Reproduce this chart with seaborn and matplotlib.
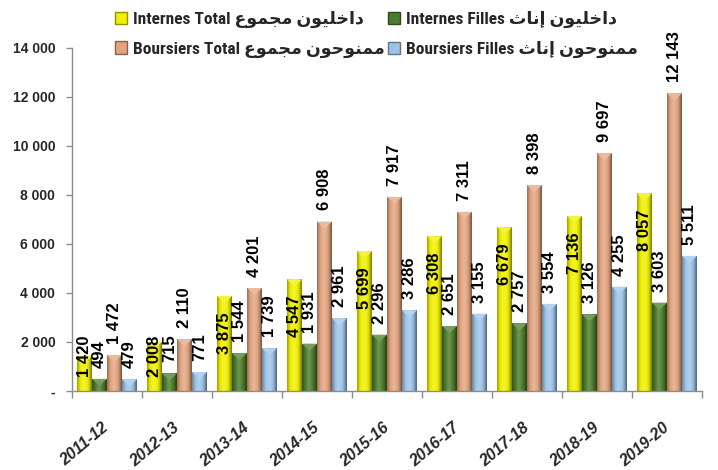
import numpy as np
import pandas as pd
import matplotlib
matplotlib.use("Agg")
import matplotlib.pyplot as plt
import matplotlib.colors as mcolors
from matplotlib import font_manager
from matplotlib.patches import Rectangle, Polygon
from matplotlib.transforms import ScaledTranslation
import seaborn as sns

# ---- data -------------------------------------------------------------
years = ["2011-12", "2012-13", "2013-14", "2014-15", "2015-16",
         "2016-17", "2017-18", "2018-19", "2019-20"]
internes_total = [1420, 2008, 3875, 4547, 5699, 6308, 6679, 7136, 8057]
internes_filles = [494, 715, 1544, 1931, 2296, 2651, 2757, 3126, 3603]
boursiers_total = [1472, 2110, 4201, 6908, 7917, 7311, 8398, 9697, 12143]
boursiers_filles = [479, 771, 1739, 2961, 3286, 3155, 3554, 4255, 5511]

# Arabic words written with presentation forms in visual (left-to-right) order
AR_INTERNES = "\uFEE5\uFEEE\uFEF4\uFEE0\uFEA7\uFE8D\uFEA9"      # داخليون
AR_BOURSIERS = "\uFEE5\uFEEE\uFEA3\uFEEE\uFEE8\uFEE4\uFEE3"     # ممنوحون
AR_TOTAL = "\uFEC9\uFEEE\uFEE4\uFEA0\uFEE3"                      # مجموع
AR_FILLES = "\uFE99\uFE8E\uFEE7\uFE87"                           # إناث

series_names = [
    "Internes Total " + AR_TOTAL + " " + AR_INTERNES,
    "Internes Filles " + AR_FILLES + " " + AR_INTERNES,
    "Boursiers Total " + AR_TOTAL + " " + AR_BOURSIERS,
    "Boursiers Filles " + AR_FILLES + " " + AR_BOURSIERS,
]
series_values = [internes_total, internes_filles, boursiers_total, boursiers_filles]
series_colors = ["#F0F000", "#4B7B2B", "#E2A47F", "#9CC3E7"]

df = pd.DataFrame({
    "year": np.tile(years, len(series_names)),
    "series": np.repeat(series_names, len(years)),
    "value": np.concatenate(series_values),
})

# ---- fonts ------------------------------------------------------------
installed = {f.name for f in font_manager.fontManager.ttflist}
narrow = next((n for n in ["Liberation Sans Narrow", "Arial Narrow",
                           "Roboto Condensed", "Open Sans Condensed",
                           "DejaVu Sans Condensed"] if n in installed), None)
arabic = [n for n in ["DejaVu Sans Condensed", "DejaVu Sans"] if n in installed]
NUM_FONT = ["Liberation Sans", "DejaVu Sans"]
if narrow:
    LEG_FONT, LEG_SIZE = [narrow] + arabic, 12.5
else:
    LEG_FONT, LEG_SIZE = ["Liberation Sans"] + arabic, 10.5

# ---- figure -----------------------------------------------------------
sns.set_style("white")
plt.rcParams["font.family"] = ["Liberation Sans", "DejaVu Sans"]

fig = plt.figure(figsize=(7.18, 4.70), dpi=100)
ax = fig.add_axes([0.1003, 0.1681, 0.8774, 0.7304])

sns.barplot(data=df, x="year", y="value", hue="series", order=years,
            hue_order=series_names, palette=series_colors, width=0.857,
            legend=False, ax=ax, saturation=1, edgecolor="none")


def shade(color, f):
    r, g, b = mcolors.to_rgb(color)
    if f < 1:
        return (r * f, g * f, b * f)
    t = f - 1
    return (r + (1 - r) * t, g + (1 - g) * t, b + (1 - b) * t)


ax.set_xlim(-0.5, len(years) - 0.5)
ax.set_ylim(0, 14000)

# cylinder-like shading over each bar, with a small bevelled cap
profile = np.array([0.7, 0.9, 1.0, 1.12, 1.2, 1.15, 1.05, 0.95, 0.8, 0.55])
ypx = 14000 / (0.7304 * 470)          # data units per pixel
for cont, col in zip(ax.containers, series_colors):
    grad = np.array([[shade(col, f) for f in profile]])
    for bar in cont:
        x0, w, h = bar.get_x(), bar.get_width(), bar.get_height()
        im = ax.imshow(grad, extent=(x0, x0 + w, 0, h), aspect="auto",
                       interpolation="bicubic", zorder=bar.get_zorder() + 0.1)
        im.set_clip_path(bar)
        cap = Polygon([(x0, h), (x0 + w, h), (x0 + w / 2, h - 7 * ypx)],
                      closed=True, facecolor=shade(col, 1.25),
                      edgecolor="none", zorder=bar.get_zorder() + 0.2)
        ax.add_patch(cap)

ax.set_xlim(-0.5, len(years) - 0.5)
ax.set_ylim(0, 14000)


def fmt(v):
    return f"{v:,}".replace(",", " ")


# value labels
label_kw = dict(rotation=90, fontsize=12, fontweight="bold", color="black",
                family=NUM_FONT, ha="center")
for i, (cont, vals) in enumerate(zip(ax.containers, series_values)):
    for bar, v in zip(cont, vals):
        xc = bar.get_x() + bar.get_width() / 2
        if i == 0:
            top = max(v - 650, 2250)
            ax.text(xc, top, fmt(v), va="top", zorder=5, **label_kw)
        else:
            ax.annotate(fmt(v), (xc, v), xytext=(0, 8),
                        textcoords="offset points", va="bottom",
                        zorder=5, **label_kw)

# axes styling
for s in ["top", "right"]:
    ax.spines[s].set_visible(False)
for s in ["left", "bottom"]:
    ax.spines[s].set_color("#8C8C8C")
    ax.spines[s].set_linewidth(1.0)

yt = np.arange(0, 14001, 2000)
ax.set_yticks(yt)
ax.set_yticklabels(["-" if v == 0 else fmt(v) for v in yt],
                   fontsize=10, fontweight="bold", family=NUM_FONT)
ax.tick_params(axis="y", length=4, width=1, color="#8C8C8C", pad=8,
               left=True)

ax.set_xticks(range(len(years)))
ax.set_xticks(np.arange(-0.5, len(years)), minor=True)
ax.set_xticklabels(years, fontsize=11.5, fontweight="bold", style="italic",
                   family=NUM_FONT)
ax.tick_params(axis="x", which="major", length=0, pad=21)
ax.tick_params(axis="x", which="minor", length=5, width=1, color="#8C8C8C",
               bottom=True)
shift = ScaledTranslation(-5 / 100, 0, fig.dpi_scale_trans)
for lab in ax.get_xticklabels():
    lab.set_rotation(40)
    lab.set_ha("right")
    lab.set_va("top")
    lab.set_rotation_mode("anchor")
    lab.set_transform(lab.get_transform() + shift)

ax.set_xlabel("")
ax.set_ylabel("")

# legend: two columns placed side by side
handles = [Rectangle((0, 0), 1, 1, facecolor=c, edgecolor=shade(c, 0.6),
                     linewidth=1.0) for c in series_colors]
leg_kw = dict(loc="upper left", frameon=False, handlelength=0.7,
              handleheight=0.75, handletextpad=0.35, labelspacing=0.75,
              borderpad=0, borderaxespad=0,
              prop=dict(family=LEG_FONT, weight="bold", size=LEG_SIZE))
leg1 = fig.legend([handles[0], handles[2]], [series_names[0], series_names[2]],
                  bbox_to_anchor=(115 / 718, 1 - 11 / 470), **leg_kw)
leg2 = fig.legend([handles[1], handles[3]], [series_names[1], series_names[3]],
                  bbox_to_anchor=(388 / 718, 1 - 11 / 470), **leg_kw)

fig.savefig("out.png", dpi=100)
